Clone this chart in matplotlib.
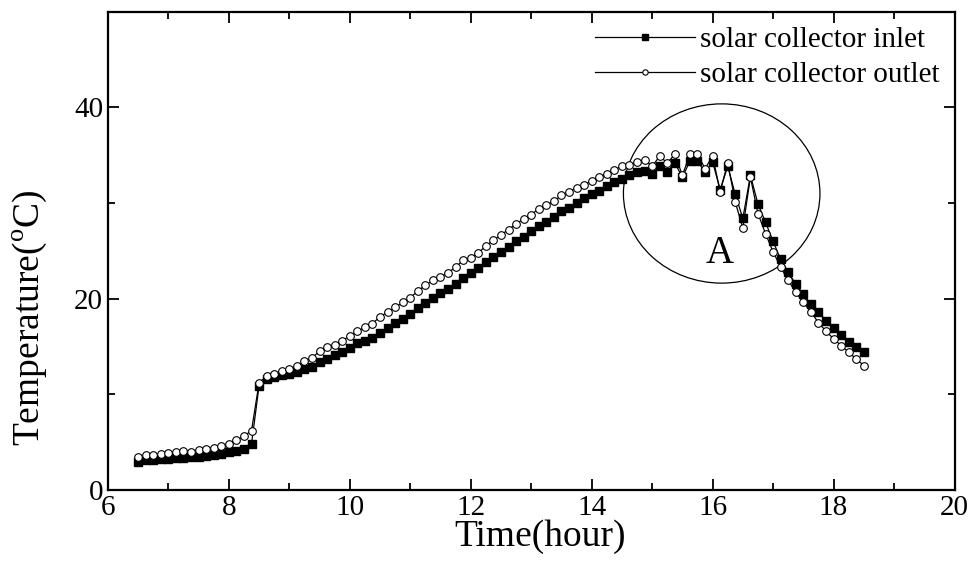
import matplotlib
matplotlib.use("Agg")
import matplotlib.pyplot as plt
from matplotlib.patches import Ellipse
from matplotlib.ticker import MultipleLocator


# Data (time in hours, sampled every 7.5 minutes)
time = [6.5 + 0.125 * i for i in range(97)]

inlet = [2.95, 3.1, 3.15, 3.2, 3.27, 3.33, 3.37, 3.44, 3.47, 3.57, 3.68, 3.75,
         3.92, 4.1, 4.3, 4.8,
         10.9, 11.6, 11.8, 12.05, 12.15, 12.3, 12.6, 12.9, 13.4, 13.7,
         14.1, 14.4, 14.83, 15.35, 15.56, 15.9, 16.46, 16.94, 17.43, 17.88,
         18.37, 19.03, 19.55, 20.07, 20.56, 20.97, 21.53, 22.15, 22.7, 23.2,
         23.8, 24.4, 24.9, 25.45, 26.0, 26.46, 27.08, 27.6, 28.05, 28.54,
         29.17, 29.5, 30.0, 30.5, 30.97, 31.3, 31.77, 32.2, 32.5, 32.9,
         33.2, 33.4, 33.0, 33.85, 33.3, 34.2, 32.7, 34.4, 34.4, 33.2,
         34.3, 31.4, 33.85, 30.9, 28.4, 32.9, 29.9, 28.0, 26.0, 24.1,
         22.8, 21.5, 20.5, 19.4, 18.6, 17.7, 16.9, 16.2, 15.5, 14.9, 14.4]

outlet = [3.47, 3.6, 3.68, 3.75, 3.85, 4.0, 4.1, 3.96, 4.2, 4.3, 4.4, 4.6,
          4.75, 5.2, 5.6, 6.2,
          11.2, 11.9, 12.15, 12.4, 12.6, 13.0, 13.5, 13.8, 14.5, 14.9,
          15.14, 15.6, 16.1, 16.6, 17.0, 17.4, 18.1, 18.6, 19.1, 19.6,
          20.1, 20.8, 21.4, 21.9, 22.3, 22.7, 23.3, 24.0, 24.3, 24.8,
          25.5, 26.1, 26.7, 27.2, 27.85, 28.3, 28.8, 29.4, 29.8, 30.2,
          30.8, 31.2, 31.6, 31.9, 32.3, 32.7, 33.05, 33.5, 33.85, 34.0,
          34.3, 34.5, 33.85, 34.9, 34.2, 35.1, 32.9, 35.1, 35.1, 33.6,
          34.9, 31.2, 34.2, 30.1, 27.4, 32.7, 28.9, 26.8, 24.9, 23.3,
          21.9, 20.7, 19.6, 18.6, 17.5, 16.6, 15.8, 15.1, 14.4, 13.7, 13.0]


# Plotting
plt.rcParams['font.family'] = ['Liberation Serif', 'DejaVu Serif']
plt.rcParams['mathtext.fontset'] = 'custom'
plt.rcParams['mathtext.rm'] = 'Liberation Serif'

fig = plt.figure(figsize=(9.72, 5.65), dpi=100)
ax = fig.add_axes([0.111, 0.133, 0.871, 0.846])

ax.plot(time, inlet, color='black', lw=0.9, marker='s', markersize=5.5,
        markerfacecolor='black', markeredgecolor='black',
        label='solar collector inlet')
ax.plot(time, outlet, color='black', lw=0.9, marker='o', markersize=5.5,
        markerfacecolor='white', markeredgecolor='black', markeredgewidth=0.8,
        label='solar collector outlet')

# region A
ax.add_patch(Ellipse((16.15, 31.0), 3.25, 18.75, fill=False, color='black', lw=0.9))
ax.text(16.12, 24.7, 'A', fontsize=28, ha='center', va='center')

ax.set_xlim(6, 20)
ax.set_ylim(0, 50)
ax.xaxis.set_major_locator(MultipleLocator(2))
ax.xaxis.set_minor_locator(MultipleLocator(1))
ax.yaxis.set_major_locator(MultipleLocator(20))
ax.yaxis.set_minor_locator(MultipleLocator(10))
ax.tick_params(which='both', direction='in', top=True, right=True, width=1.3, labelsize=21)
ax.tick_params(which='major', length=8)
ax.tick_params(which='minor', length=5)
for s in ax.spines.values():
    s.set_linewidth(1.6)

ax.set_xlabel('Time(hour)', fontsize=27)
ax.xaxis.set_label_coords(0.511, -0.062)
ax.set_ylabel('Temperature($^{\\mathrm{o}}$C)', fontsize=27)
ax.yaxis.set_label_coords(-0.07, 0.36)

ax.legend(loc='upper right', frameon=False, fontsize=21, handlelength=3.4,
          handletextpad=0.2, borderaxespad=0.1, labelspacing=0.3, markerscale=0.7)

fig.savefig('out.png', dpi=100)
